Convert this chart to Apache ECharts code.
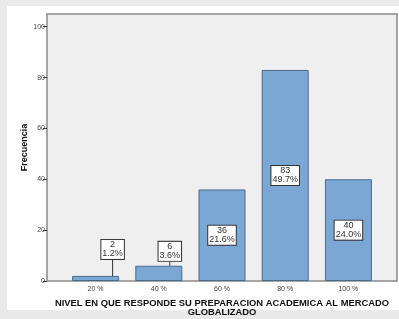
<!DOCTYPE html>
<html>
<head>
<meta charset="utf-8">
<script src="https://cdn.jsdelivr.net/npm/echarts@6/dist/echarts.min.js"></script>
<style>
  html, body { margin: 0; padding: 0; }
  #main { width: 399px; height: 319px; }
</style>
</head>
<body>
<div id="main"></div>
<script>
var categories = ['20 %', '40 %', '60 %', '80 %', '100 %'];
var counts = [2, 6, 36, 83, 40];
var percents = ['1.2', '3.6', '21.6', '49.7', '24.0'];
var yTicks = [0, 20, 40, 60, 80, 100];

var myChart = echarts.init(document.getElementById('main'));

var option = {
    backgroundColor: '#e9e9e9',
    textStyle: { fontFamily: 'Liberation Sans, Arial, sans-serif' },
    graphic: [{
        type: 'rect',
        z: -10,
        shape: { x: 7, y: 6, width: 392, height: 304 },
        style: { fill: '#ffffff' }
    }],
    grid: [
        // frame of the plot area
        { left: 47, right: 2, top: 14, bottom: 38, outerBoundsMode: 'none', show: true, backgroundColor: '#efefef', borderColor: '#8a8a8a', borderWidth: 1.5 },
        // inner grid holding the bars
        { left: 64, right: 19, top: 14, bottom: 38, outerBoundsMode: 'none' }
    ],
    xAxis: [
        { gridIndex: 0, type: 'value', show: false, min: 0, max: 1 },
        {
            gridIndex: 1,
            type: 'category',
            data: categories,
            axisLine: { show: false },
            axisTick: { alignWithLabel: true, length: 3, lineStyle: { color: '#333' } },
            axisLabel: { fontSize: 7, color: '#444', margin: 5 },
            name: 'NIVEL EN QUE RESPONDE SU PREPARACION ACADEMICA AL MERCADO\nGLOBALIZADO',
            nameLocation: 'middle',
            nameGap: 18,
            nameMoveOverlap: false,
            nameTextStyle: { fontSize: 9.4, fontWeight: 'bold', color: '#111', lineHeight: 9 }
        }
    ],
    yAxis: [
        {
            gridIndex: 0,
            type: 'value',
            min: 0,
            max: 105,
            axisLine: { show: false },
            splitLine: { show: false },
            axisTick: { show: true, length: 4, customValues: yTicks, lineStyle: { color: '#333' } },
            axisLabel: { fontSize: 7, color: '#444', margin: 2, customValues: yTicks },
            name: 'Frecuencia',
            nameLocation: 'middle',
            nameGap: 18,
            nameMoveOverlap: false,
            nameTextStyle: { fontSize: 9, fontWeight: 'bold', color: '#111' }
        },
        { gridIndex: 1, type: 'value', min: 0, max: 105, show: false }
    ],
    series: [{
        name: 'Frecuencia',
        type: 'bar',
        xAxisIndex: 1,
        yAxisIndex: 1,
        barWidth: 47,
        data: counts,
        itemStyle: { color: '#7ba7d4', borderColor: '#4a6a8a', borderWidth: 1 },
        label: {
            show: true,
            position: 'inside',
            formatter: function (p) { return p.value + '\n' + percents[p.dataIndex] + '%'; },
            fontSize: 9,
            lineHeight: 9,
            color: '#333',
            backgroundColor: '#ffffff',
            borderColor: '#333',
            borderWidth: 1,
            padding: [1, 1, 0, 1]
        },
        labelLine: { show: true, lineStyle: { color: '#333', width: 1 } },
        labelLayout: function (params) {
            if (params.dataIndex === 0) return { dx: 17, dy: -29 };
            if (params.dataIndex === 1) return { dx: 11, dy: -22 };
            return {};
        }
    }]
};
myChart.setOption(option);
</script>
</body>
</html>
